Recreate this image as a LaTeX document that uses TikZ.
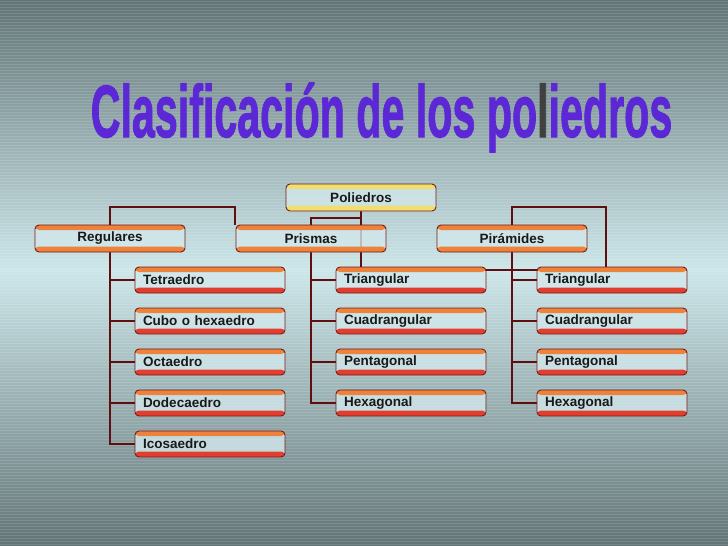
\documentclass[tikz,border=0pt]{standalone}
\usepackage{fontspec}
\setmainfont{Liberation Sans}
\newfontfamily\fuentetitulo[BoldFeatures={FakeBold=1.6}]{Liberation Sans}

\definecolor{fondoosc}{RGB}{98,116,118}
\definecolor{fondocla}{RGB}{204,230,233}
\definecolor{borde}{RGB}{120,25,20}
\definecolor{linea}{RGB}{95,15,15}
\definecolor{cuerpo}{RGB}{210,232,236}
\definecolor{naranja}{RGB}{236,130,60}
\definecolor{rojo}{RGB}{226,62,48}
\definecolor{amarillo}{RGB}{240,222,112}
\definecolor{titulo}{RGB}{92,40,214}

\pgfdeclarelayer{fondo}
\pgfdeclarelayer{lineas}
\pgfsetlayers{fondo,lineas,main}

\tikzset{
	caja/.style 2 args={draw=borde, line width=0.9pt, rounded corners=4pt,
		fill=cuerpo, fill opacity=0.8, text opacity=1, inner sep=0pt,
		minimum width=150pt, minimum height=26pt,
		font=\fontsize{13.5}{14}\selectfont\bfseries, text=black!90,
		path picture={
			\fill[#1, fill opacity=1] (path picture bounding box.north west) rectangle ([yshift=-5pt]path picture bounding box.north east);
			\fill[#2, fill opacity=1] (path picture bounding box.south west) rectangle ([yshift=5.5pt]path picture bounding box.south east);}},
	raiz/.style={caja={amarillo}{amarillo}, minimum height=27pt},
	rama/.style={caja={naranja}{naranja}, minimum height=27pt},
	hoja/.style={caja={naranja}{rojo}, text width=134pt, align=left},
	link/.style={draw=linea, line width=1.6pt},
}

\begin{document}
\begin{tikzpicture}[x=1pt, y=-1pt]
	\useasboundingbox (0,0) rectangle (728,546);
	% fondo rayado
	\begin{pgfonlayer}{fondo}
		\fill[top color=fondoosc, bottom color=fondocla] (0,0) rectangle (728,270);
		\fill[top color=fondocla, bottom color=fondoosc] (0,270) rectangle (728,546);
		\foreach \y in {1, 4, ..., 546}
			\fill[white, opacity=0.13] (0,\y) rectangle (728,\y+1);
	\end{pgfonlayer}

	% titulo
	\node[anchor=base, text=titulo] (titulo) at (381.5,137)
		{\scalebox{1.03}[1.85]{\fontsize{40}{40}\fuentetitulo\bfseries Clasificación de los po\textcolor{darkgray}{l}iedros}};

	% niveles
	\node[raiz] (poliedros) at (361,197.5) {Poliedros};
	\node[rama] (regulares) at (110,238.5) {Regulares};
	\node[rama] (prismas) at (311,238.5) {Prismas};
	\node[rama] (piramides) at (512,238.5) {Pirámides};

	\foreach \name [count=\i] in {Tetraedro, Cubo o hexaedro, Octaedro, Dodecaedro, Icosaedro}
		\node[hoja] (reg\i) at (210, 239+41*\i) {\name};
	\foreach \name [count=\i] in {Triangular, Cuadrangular, Pentagonal, Hexagonal}
		\node[hoja] (pri\i) at (411, 239+41*\i) {\name};
	\foreach \name [count=\i] in {Triangular, Cuadrangular, Pentagonal, Hexagonal}
		\node[hoja] (pir\i) at (612, 239+41*\i) {\name};

	% conectores
	\coordinate (vueltaD) at (606,270);
	\coordinate (arribaD) at (512,207);
	\coordinate (arribaI) at (235,207);
	\coordinate (medioP) at (311,218);
	\begin{pgfonlayer}{lineas}
		\draw[link] (poliedros.south) |- (vueltaD) |- (arribaD) -- (piramides.north);
		\draw[link] (poliedros.south) |- (medioP) -- (prismas.north);
		\draw[link] (regulares.north) |- (arribaI) -- (arribaI |- prismas.north);
		\draw[link] (regulares.south) |- (reg5.west);
		\draw[link] (prismas.south) |- (pri4.west);
		\draw[link] (piramides.south) |- (pir4.west);
		\foreach \i in {1, 2, 3, 4}
			\draw[link] (regulares.south |- reg\i.west) -- (reg\i.west);
		\foreach \i in {1, 2, 3}
			\draw[link] (prismas.south |- pri\i.west) -- (pri\i.west);
		\foreach \i in {1, 2, 3}
			\draw[link] (piramides.south |- pir\i.west) -- (pir\i.west);
	\end{pgfonlayer}
\end{tikzpicture}
\end{document}
